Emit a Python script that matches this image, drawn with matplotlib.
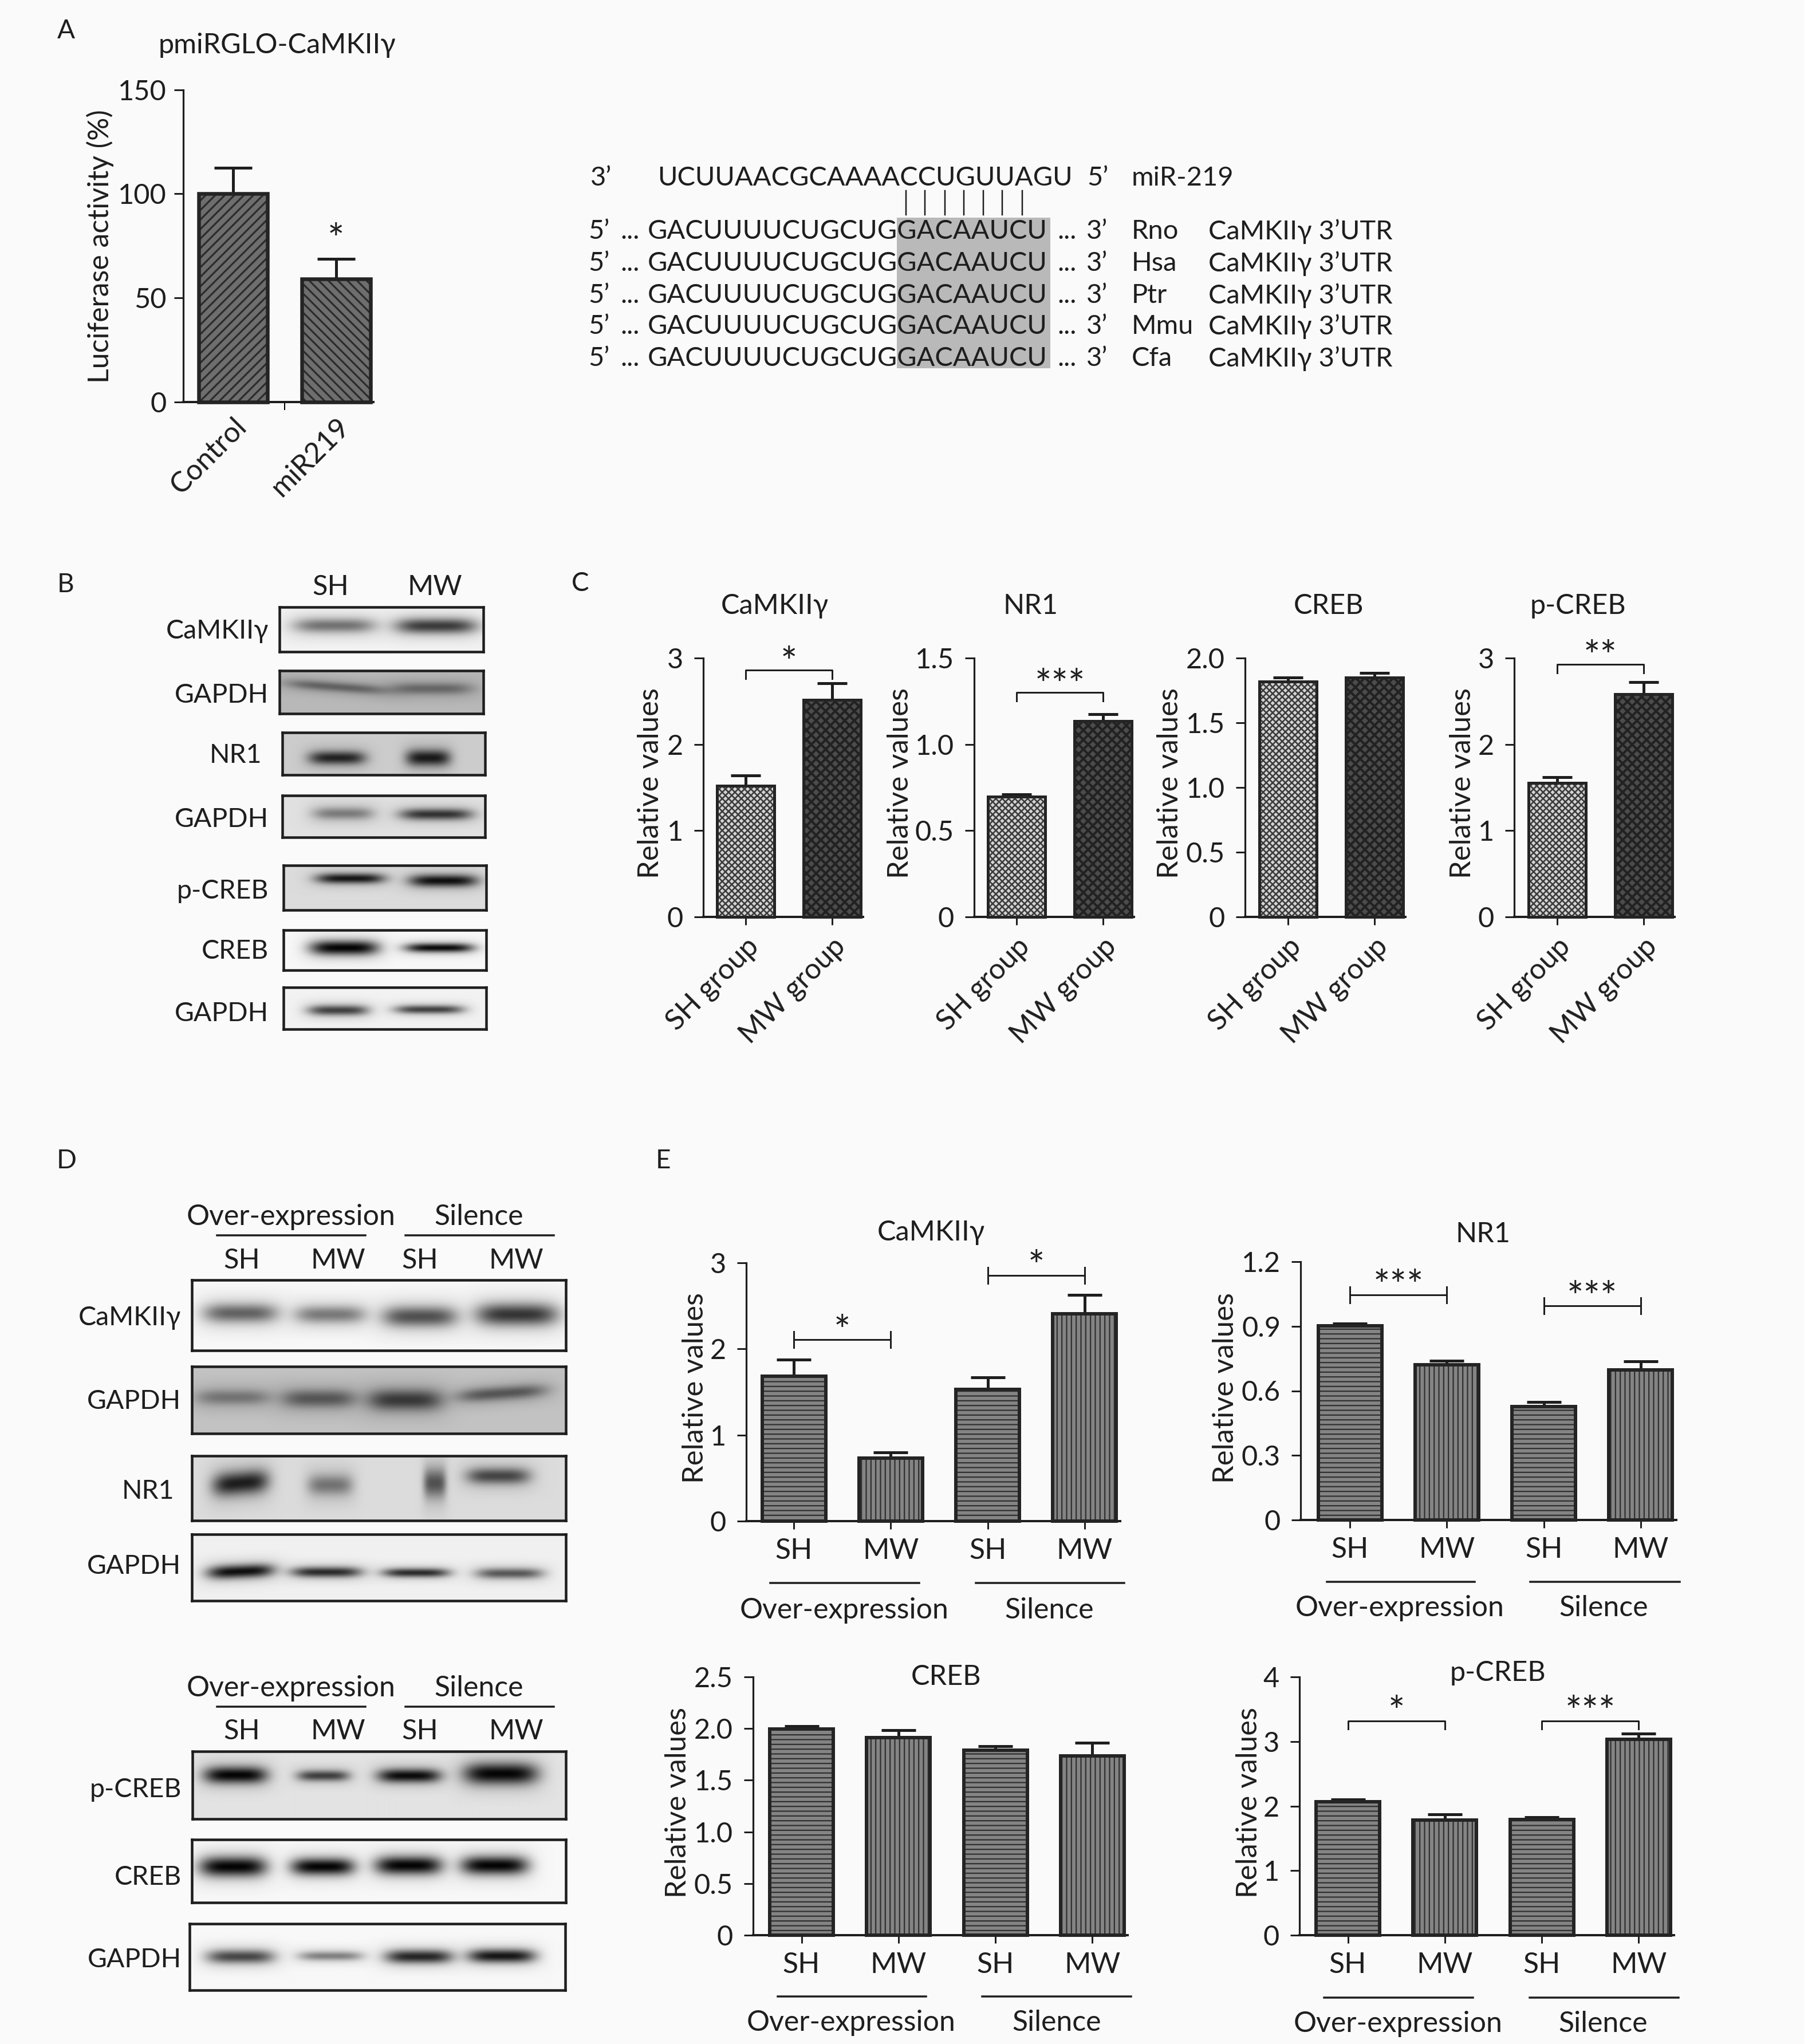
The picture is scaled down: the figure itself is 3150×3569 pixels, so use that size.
import matplotlib
matplotlib.use("Agg")
import matplotlib.pyplot as plt
import numpy as np

W, H = 3150, 3569
BG = "#fafafa"
INK = "#1e1e1e"

plt.rcParams["font.family"] = ["Lato", "DejaVu Sans"]
plt.rcParams["axes.facecolor"] = "none"

# --- panel A ---
a_groups = ["Control", "miR219"]
a_values = [100, 59.2]
a_errors = [12.6, 9.6]

# --- sequence alignment ---
mir_seq = "UCUUAACGCAAAACCUGUUAGU"
target_seq = "GACUUUUCUGCUGGACAAUCU"
species = ["Rno", "Hsa", "Ptr", "Mmu", "Cfa"]

# --- panel C ---
c_groups = ["SH group", "MW group"]
c_camk_values = [1.523, 2.513]
c_camk_errors = [0.117, 0.197]
c_nr1_values = [0.697, 1.136]
c_nr1_errors = [0.012, 0.038]
c_creb_values = [1.817, 1.849]
c_creb_errors = [0.031, 0.036]
c_pcreb_values = [1.553, 2.583]
c_pcreb_errors = [0.067, 0.137]

# --- panel E ---
e_groups = ["SH", "MW", "SH", "MW"]
e_camk_values = [1.68, 0.73, 1.53, 2.41]
e_camk_errors = [0.197, 0.07, 0.138, 0.22]
e_nr1_values = [0.903, 0.722, 0.528, 0.697]
e_nr1_errors = [0.009, 0.017, 0.02, 0.039]
e_creb_values = [1.993, 1.91, 1.788, 1.733]
e_creb_errors = [0.029, 0.077, 0.044, 0.127]
e_pcreb_values = [2.063, 1.783, 1.79, 3.037]
e_pcreb_errors = [0.037, 0.092, 0.035, 0.083]

# blot bands: centre, half width, row, thickness, darkness, (slope)
b_bands = {
    "CaMKIIγ": [(0.27, 0.20, 0.42, 0.14, 0.50), (0.77, 0.20, 0.43, 0.15, 0.75)],
    "GAPDH 1": [(0.28, 0.25, 0.38, 0.10, 0.45, 0.35), (0.75, 0.20, 0.42, 0.12, 0.42)],
    "NR1": [(0.27, 0.14, 0.60, 0.14, 0.85), (0.72, 0.11, 0.60, 0.17, 0.90)],
    "GAPDH 2": [(0.30, 0.15, 0.43, 0.13, 0.42), (0.76, 0.18, 0.45, 0.12, 0.78)],
    "p-CREB": [(0.33, 0.17, 0.30, 0.10, 0.92), (0.79, 0.17, 0.35, 0.12, 0.95)],
    "CREB": [(0.30, 0.17, 0.45, 0.16, 1.0), (0.77, 0.17, 0.45, 0.10, 0.97)],
    "GAPDH 3": [(0.27, 0.15, 0.55, 0.11, 0.72), (0.72, 0.17, 0.53, 0.09, 0.72)],
}
d_bands = {
    "CaMKIIγ": [(0.13, 0.10, 0.47, 0.12, 0.58), (0.37, 0.095, 0.49, 0.11, 0.48),
                (0.61, 0.10, 0.52, 0.13, 0.66), (0.87, 0.11, 0.49, 0.14, 0.78)],
    "GAPDH 1": [(0.11, 0.10, 0.46, 0.10, 0.38), (0.34, 0.10, 0.48, 0.12, 0.55),
                (0.57, 0.10, 0.50, 0.14, 0.72), (0.83, 0.12, 0.40, 0.09, 0.55, -0.4)],
    "NR1": [(0.13, 0.075, 0.42, 0.16, 0.88, -0.5), (0.37, 0.06, 0.45, 0.14, 0.45),
            (0.65, 0.03, 0.42, 0.20, 0.62), (0.82, 0.085, 0.31, 0.11, 0.68)],
    "GAPDH 2": [(0.13, 0.09, 0.56, 0.09, 0.95, -0.25), (0.36, 0.095, 0.57, 0.07, 0.82),
                (0.60, 0.09, 0.58, 0.06, 0.82), (0.85, 0.09, 0.59, 0.07, 0.62)],
    "p-CREB": [(0.115, 0.085, 0.35, 0.11, 1.0), (0.35, 0.07, 0.36, 0.07, 0.72),
               (0.58, 0.085, 0.36, 0.09, 0.97), (0.825, 0.10, 0.33, 0.14, 1.0)],
    "CREB": [(0.11, 0.09, 0.43, 0.14, 1.0), (0.35, 0.085, 0.43, 0.12, 1.0),
             (0.58, 0.09, 0.41, 0.13, 1.0), (0.81, 0.09, 0.41, 0.13, 1.0)],
    "GAPDH 3": [(0.135, 0.09, 0.50, 0.09, 0.70), (0.375, 0.085, 0.49, 0.06, 0.45),
                (0.61, 0.09, 0.50, 0.09, 0.85), (0.83, 0.09, 0.49, 0.09, 0.92)],
}

fig = plt.figure(figsize=(W / 100, H / 100), dpi=100, facecolor=BG)


def pt(px):
    return px * 0.72


def txt(x, y, s, size=36, ha="center", va="center", rotation=0):
    # matplotlib centres on the line box, nudge so glyphs land on the measured centre
    if rotation:
        x += 4
    else:
        y += 4
    return fig.text(x / W, 1 - y / H, s, fontsize=size, ha=ha, va=va, color=INK, rotation=rotation)


def px_axes(x0, y0, x1, y1):
    return fig.add_axes([x0 / W, 1 - y1 / H, (x1 - x0) / W, (y1 - y0) / H])


STYLES = {
    "a1": dict(hatch="//", face="#6e6e6e", ink="#2c2c2c", hl=2.3),
    "a2": dict(hatch="\\\\", face="#6e6e6e", ink="#2c2c2c", hl=2.3),
    "sh": dict(hatch="xxx", face="#d4d4d4", ink="#3c3c3c", hl=1.9),
    "mw": dict(hatch="xx", face="#4c4c4c", ink="#222222", hl=3.0),
    "h": dict(hatch="--", face="#848484", ink="#303030", hl=1.6),
    "v": dict(hatch="||", face="#848484", ink="#303030", hl=1.6),
}


def bars(left, right, top, bottom, centre, step, width, ymax, yticks, ylabels,
         values, errors, styles, edge_px=5.5, cap_px=30, stem_px=5, label_gap=19):
    ax = px_axes(left, top, right, bottom)
    ax.set_xlim((left - centre) / step, (right - centre) / step)
    ax.set_ylim(0, ymax)
    for i, (v, e, st) in enumerate(zip(values, errors, styles)):
        s = STYLES[st]
        plt.rcParams["hatch.linewidth"] = s["hl"]
        ax.errorbar(i, v, yerr=[[0], [e]], color=INK, elinewidth=pt(stem_px),
                    capsize=pt(cap_px), capthick=pt(stem_px), zorder=2)
        ax.bar(i, v, width / step, color=s["face"], edgecolor=s["ink"],
               hatch=s["hatch"], linewidth=0, zorder=3)
        ax.bar(i, v, width / step, fill=False, edgecolor="#242424",
               linewidth=pt(edge_px), zorder=4, clip_on=False)
    for side in ["top", "right"]:
        ax.spines[side].set_visible(False)
    ax.spines["left"].set_linewidth(pt(3.2))
    ax.spines["bottom"].set_linewidth(pt(4))
    ax.spines["left"].set_color(INK)
    ax.spines["bottom"].set_color(INK)
    ax.set_yticks(yticks, ylabels)
    ax.tick_params(axis="y", length=pt(16), width=pt(3), color=INK, pad=pt(label_gap),
                   labelsize=35, labelcolor=INK)
    ax.tick_params(axis="x", length=pt(14), width=pt(3), color=INK)
    return ax


def bracket(ax, i, j, y, stars, drop_px=15, hbar=False, star_px=10):
    # significance bar tied to the data axes; drop converted from pixels
    box = ax.get_window_extent()
    per_px = (ax.get_ylim()[1] - ax.get_ylim()[0]) / box.height
    d = drop_px * per_px
    if hbar:
        ax.plot([i, j], [y, y], color=INK, lw=pt(3), clip_on=False, zorder=5)
        for k in (i, j):
            ax.plot([k, k], [y - d, y + d], color=INK, lw=pt(3), clip_on=False, zorder=5)
    else:
        ax.plot([i, i, j, j], [y - d, y, y, y - d], color=INK, lw=pt(3),
                clip_on=False, zorder=5)
    ax.annotate(stars, ((i + j) / 2, y), xytext=(0, pt(star_px)), textcoords="offset points",
                ha="center", va="center", fontsize=50, color=INK, annotation_clip=False)


def group_rule(x0, x1, y, lw=3.5):
    fig.add_artist(plt.Line2D([x0 / W, x1 / W], [1 - y / H, 1 - y / H], color=INK, lw=pt(lw)))


def blot(x0, y0, x1, y1, bands, bg, edge_px=4.5):
    ax = px_axes(x0, y0, x1, y1)
    nx, ny = int(x1 - x0), int(y1 - y0)
    xx, yy = np.meshgrid(np.linspace(0, 1, nx), np.linspace(0, 1, ny))
    img = np.full((ny, nx), float(bg))
    for band in bands:
        c, hw, row, thick, dark = band[:5]
        thick = thick * 1.15
        slope = band[5] if len(band) > 5 else 0
        yc = row + slope * (xx - c)
        # soft halo plus the band itself
        halo = np.exp(-((xx - c) / (hw * 1.25)) ** 4) * np.exp(-(((yy - yc) / (thick * 2.4)) ** 4))
        core = np.exp(-((xx - c) / hw) ** 4) * np.exp(-(((yy - yc) / thick) ** 2))
        img = img - 0.07 * halo * bg - dark * core * (bg - 0.08)
    ax.imshow(np.clip(img, 0, 1), cmap="gray", vmin=0, vmax=1, aspect="auto",
              extent=(0, 1, 1, 0), interpolation="bilinear")
    ax.set_xticks([])
    ax.set_yticks([])
    for sp in ax.spines.values():
        sp.set_linewidth(pt(edge_px))
        sp.set_color(INK)
    return ax


# ---------- panel letters ----------
txt(115, 50, "A", 33)
txt(115, 1017, "B", 33)
txt(1013, 1015, "C", 33)
txt(116, 2023, "D", 33)
txt(1158, 2023, "E", 33)

# ---------- panel A ----------
txt(484, 75, "pmiRGLO-CaMKIIγ", 35)
txt(171, 430, "Luciferase activity (%)", 36, rotation=90)
ax_a = bars(320, 652, 157, 701.5, 407, 179.5, 120, 150, [0, 50, 100, 150],
            ["0", "50", "100", "150"], a_values, a_errors, ["a1", "a2"],
            edge_px=6.5, cap_px=33, label_gap=13)
ax_a.set_xticks([0, 1], a_groups, rotation=45, ha="right", va="top",
                rotation_mode="anchor", fontsize=36, color=INK)
ax_a.tick_params(axis="x", which="major", length=0, pad=pt(20))
ax_a.set_xticks([0.5], minor=True)
ax_a.tick_params(axis="x", which="minor", length=pt(14), width=pt(2))
ax_a.text(1, 77, "*", ha="center", va="center", fontsize=50, color=INK)

# ---------- alignment ----------
RNA_SIZE = 33.8
fig.add_artist(plt.Rectangle((1566 / W, 1 - 643 / H), 268 / W, 263 / H, color="#b9b9b9", lw=0))
txt(1031, 307, "3’", RNA_SIZE, ha="left")
txt(1148, 307, mir_seq, RNA_SIZE, ha="left")
txt(1898, 307, "5’", RNA_SIZE, ha="left")
txt(1976, 307, "miR-219", RNA_SIZE, ha="left")
for x in [1582, 1615, 1650, 1683, 1717, 1750, 1785]:
    fig.add_artist(plt.Line2D([x / W, x / W], [1 - 333 / H, 1 - 375 / H], color=INK, lw=pt(2.5)))
for y, sp in zip([400, 456, 512, 566, 622], species):
    txt(1027, y, "5’", RNA_SIZE, ha="left")
    txt(1083, y, "...", RNA_SIZE, ha="left")
    txt(1131, y, target_seq, RNA_SIZE, ha="left")
    txt(1846, y, "...", RNA_SIZE, ha="left")
    txt(1897, y, "3’", RNA_SIZE, ha="left")
    txt(1976, y, sp, RNA_SIZE, ha="left")
    txt(2110, y, "CaMKIIγ 3’UTR", RNA_SIZE, ha="left")

# ---------- panel B ----------
txt(577, 1021, "SH", 35)
txt(759, 1021, "MW", 35)
b_boxes = [
    ("CaMKIIγ", 488, 844, 1060, 1138, 0.95, 469, 1098),
    ("GAPDH 1", 488, 844, 1171, 1246, 0.72, 469, 1210),
    ("NR1", 493, 847, 1279, 1353, 0.80, 457, 1315),
    ("GAPDH 2", 493, 847, 1389, 1462, 0.88, 469, 1427),
    ("p-CREB", 495, 849, 1511, 1589, 0.86, 469, 1552),
    ("CREB", 495, 849, 1624, 1694, 0.97, 469, 1657),
    ("GAPDH 3", 495, 849, 1724, 1797, 0.95, 469, 1766),
]
for name, x0, x1, y0, y1, bg, lx, ly in b_boxes:
    blot(x0, y0, x1, y1, b_bands[name], bg)
    txt(lx, ly, name.split(" ")[0], 33.5, ha="right")

# ---------- panel C ----------
C_TOP, C_BOT = 1149, 1601
c_specs = [
    ("CaMKIIγ", 1353, 1132, 1228, 1302, [0, 1, 2, 3], ["0", "1", "2", "3"], 3,
     c_camk_values, c_camk_errors, (2.86, "*")),
    ("NR1", 1800, 1568, 1701, 1775, [0, 0.5, 1.0, 1.5], ["0", "0.5", "1.0", "1.5"], 1.5,
     c_nr1_values, c_nr1_errors, (1.30, "***")),
    ("CREB", 2320, 2039, 2174, 2249, [0, 0.5, 1.0, 1.5, 2.0], ["0", "0.5", "1.0", "1.5", "2.0"], 2.0,
     c_creb_values, c_creb_errors, None),
    ("p-CREB", 2755, 2550, 2644, 2718.5, [0, 1, 2, 3], ["0", "1", "2", "3"], 3,
     c_pcreb_values, c_pcreb_errors, (2.93, "**")),
]
for title, tx, lx, left, c0, ticks, labels, ymax, vals, errs, sig in c_specs:
    txt(tx, 1054, title, 35)
    txt(lx, 1368, "Relative values", 36.5, rotation=90)
    ax = bars(left, c0 + 205, C_TOP, C_BOT, c0, 151, 100, ymax, ticks, labels, vals, errs,
              ["sh", "mw"], edge_px=5, cap_px=26)
    ax.set_xticks([0, 1], c_groups, rotation=45, ha="right", va="top",
                  rotation_mode="anchor", fontsize=36, color=INK)
    ax.tick_params(axis="x", pad=pt(14))
    if sig:
        bracket(ax, 0, 1, sig[0], sig[1], star_px=10)

# ---------- panel D ----------
def d_header(y_text, y_rule, y_row):
    txt(508, y_text, "Over-expression", 36)
    txt(836, y_text, "Silence", 36)
    group_rule(379, 638, y_rule)
    group_rule(708, 967, y_rule)
    for x, s in zip([422, 590, 733, 901], e_groups):
        txt(x, y_row, s, 35)


d_header(2121, 2157, 2197)
d_header(2944, 2980, 3019)
d_boxes = [
    ("CaMKIIγ", d_bands["CaMKIIγ"], 335, 988, 2235, 2358, 0.97, 316, 2297),
    ("GAPDH", d_bands["GAPDH 1"], 335, 988, 2386, 2503, 0.76, 316, 2443),
    ("NR1", d_bands["NR1"], 335, 988, 2542, 2655, 0.86, 304, 2600),
    ("GAPDH", d_bands["GAPDH 2"], 335, 988, 2679, 2795, 0.94, 316, 2731),
    ("p-CREB", d_bands["p-CREB"], 336, 988, 3058, 3176, 0.89, 317, 3121),
    ("CREB", d_bands["CREB"], 335, 988, 3212, 3322, 0.97, 317, 3274),
    ("GAPDH", d_bands["GAPDH 3"], 331, 987, 3359, 3475, 0.97, 317, 3418),
]
for name, bands, x0, x1, y0, y1, bg, lx, ly in d_boxes:
    blot(x0, y0, x1, y1, bands, bg)
    txt(lx, ly, name, 33.5, ha="right")

# ---------- panel E ----------
e_specs = [
    ("CaMKIIγ", 1626, 2148, 1210, 2423, 1303, 2205, 2656, 1386, [0, 1, 2, 3], ["0", "1", "2", "3"], 3,
     e_camk_values, e_camk_errors, [(0, 1, 2.108, "*", True), (2, 3, 2.855, "*", True)],
     (1345, 1605, 1704, 1963, 2764), (1474, 1832, 2808)),
    ("NR1", 2590, 2151, 2136, 2423, 2271, 2203, 2654, 2357,
     [0, 0.3, 0.6, 0.9, 1.2], ["0", "0.3", "0.6", "0.9", "1.2"], 1.2,
     e_nr1_values, e_nr1_errors, [(0, 1, 1.046, "***", True), (2, 3, 0.995, "***", True)],
     (2317, 2575, 2672, 2933, 2762), (2444, 2800, 2804)),
    ("CREB", 1652, 2924, 1180, 3148, 1315, 2928, 3379, 1399.5,
     [0, 0.5, 1.0, 1.5, 2.0, 2.5], ["0", "0.5", "1.0", "1.5", "2.0", "2.5"], 2.5,
     e_creb_values, e_creb_errors, [],
     (1358, 1617, 1715, 1975, 3486), (1486, 1845, 3528)),
    ("p-CREB", 2615, 2917, 2177, 3148, 2269, 2928, 3379, 2353.5,
     [0, 1, 2, 3, 4], ["0", "1", "2", "3", "4"], 4,
     e_pcreb_values, e_pcreb_errors, [(0, 1, 3.318, "*", False), (2, 3, 3.318, "***", False)],
     (2312, 2572, 2671, 2931, 3488), (2441, 2799, 3530)),
]
for (title, tx, ty, lx, ly, left, top, bot, c0, ticks, labels, ymax, vals, errs, sigs,
     rules, heads) in e_specs:
    txt(tx, ty, title, 35)
    txt(lx, ly, "Relative values", 36.5, rotation=90)
    ax = bars(left, c0 + 3 * 169.3 + 62, top, bot, c0, 169.3, 111, ymax, ticks, labels,
              vals, errs, ["h", "v", "h", "v"], edge_px=6, cap_px=30)
    ax.set_xticks(range(4), e_groups, fontsize=36, color=INK)
    ax.tick_params(axis="x", pad=pt(15))
    for i, j, y, stars, hbar in sigs:
        bracket(ax, i, j, y, stars, drop_px=14, hbar=hbar, star_px=12)
    group_rule(rules[0], rules[1], rules[4])
    group_rule(rules[2], rules[3], rules[4])
    txt(heads[0], heads[2], "Over-expression", 36)
    txt(heads[1], heads[2], "Silence", 36)

fig.savefig("out.png", dpi=100, facecolor=BG)
